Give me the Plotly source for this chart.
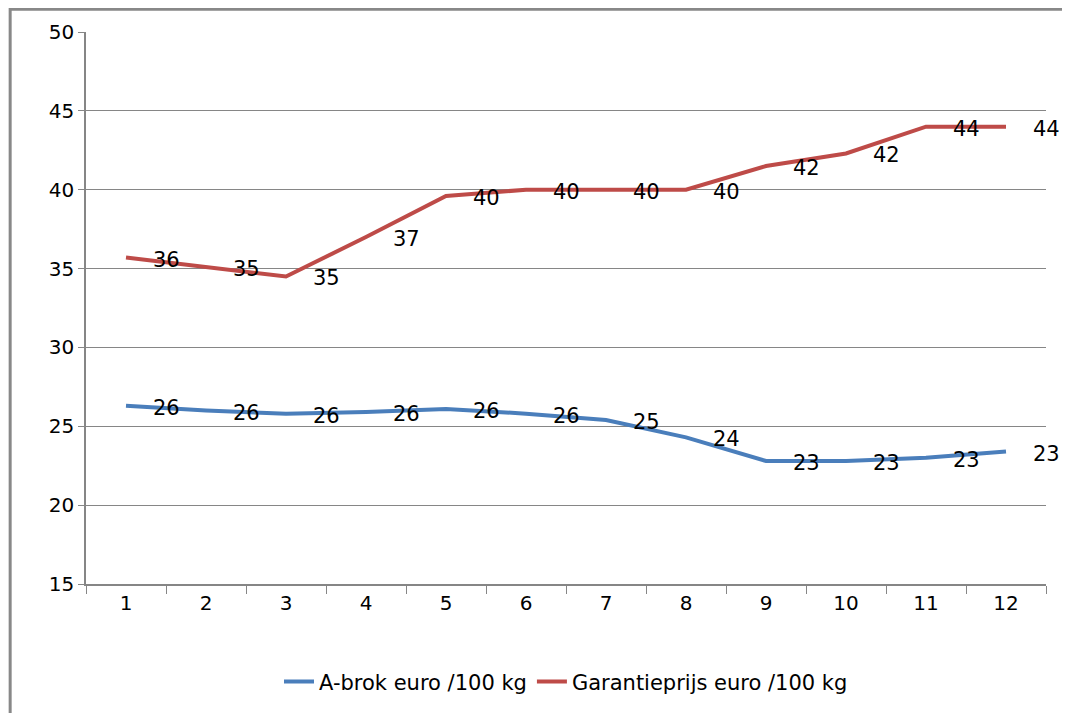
import plotly.graph_objects as go

months = list(range(1, 13))
abrok = [26.3, 26.0, 25.8, 25.9, 26.1, 25.8, 25.4, 24.3, 22.8, 22.8, 23.0, 23.4]
garantie = [35.7, 35.1, 34.5, 37.0, 39.6, 40.0, 40.0, 40.0, 41.5, 42.3, 44.0, 44.0]

fig = go.Figure()
anns = []
for name, vals, col in [("A-brok euro /100 kg", abrok, "#4A7EBB"),
                        ("Garantieprijs euro /100 kg", garantie, "#BE4B48")]:
    fig.add_trace(go.Scatter(x=months, y=vals, name=name, mode="lines",
                             line=dict(color=col, width=4)))
    for m, v in zip(months, vals):
        anns.append(dict(x=m, y=v, text=str(int(v + 0.5)), showarrow=False,
                         xshift=40, yshift=-2, font=dict(size=21, color="black")))

fig.update_layout(
    width=1070, height=713, paper_bgcolor="white", plot_bgcolor="white",
    margin=dict(l=78, r=32, t=24, b=137, autoexpand=False),
    font=dict(family="DejaVu Sans", size=20, color="black"),
    showlegend=True, annotations=anns,
    legend=dict(orientation="h", x=0.5, xanchor="center", y=-0.14, yanchor="top",
                font=dict(size=21)),
    shapes=[dict(type="rect", xref="paper", yref="paper", x0=-0.079, x1=1.031,
                 y0=-0.245, y1=1.041, line=dict(color="#888", width=3))],
)
fig.update_xaxes(range=[0.5, 12.5], tickvals=months, ticks="", showgrid=False,
                 tickfont=dict(size=20), automargin=False,
                 showline=True, linecolor="#868686", linewidth=1.5,
                 minor=dict(tick0=0.5, dtick=1, ticks="outside", ticklen=8,
                            tickcolor="#868686", showgrid=False))
fig.update_yaxes(range=[15, 50], dtick=5, showgrid=True, gridcolor="#868686",
                 tickfont=dict(size=20), automargin=False,
                 gridwidth=1, showline=True, linecolor="#868686", linewidth=1.5,
                 ticks="outside", ticklen=6, tickcolor="#868686", zeroline=False)
fig.write_html("out.html")
